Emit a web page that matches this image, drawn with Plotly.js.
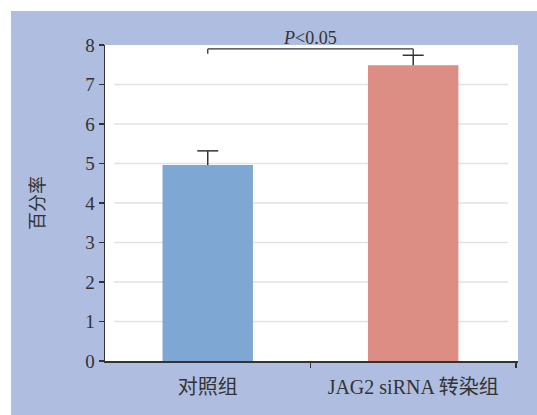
<!DOCTYPE html>
<html>
<head>
<meta charset="utf-8">
<script src="https://cdn.plot.ly/plotly-3.0.1.min.js"></script>
<style>html,body{margin:0;padding:0;background:#fff;}#chart{width:537px;height:415px;}</style>
</head>
<body>
<div id="chart"></div>
<script>
const categories = ["对照组", "JAG2 siRNA 转染组"];
const values = [4.96, 7.49];
const errors = [0.36, 0.25];
const barColors = ["#7EA8D3", "#DC8D84"];
const yTicks = [0, 1, 2, 3, 4, 5, 6, 7, 8];
const gridValues = [1, 2, 3, 4, 5, 6, 7];
const sigLabel = "<i>P</i>&lt;0.05";
const sigLevel = 7.9;
const sigDrop = 7.78;

const serif = "Liberation Serif, Times New Roman, Noto Sans CJK SC, serif";
const ink = "#333333";

const shapes = [
  {type: "rect", xref: "paper", yref: "paper", x0: -0.3, x1: 1.2, y0: 1.1074, y1: 1.3, fillcolor: "#ffffff", line: {width: 0}, layer: "below"},
  {type: "rect", xref: "paper", yref: "paper", x0: -0.3, x1: -0.2276, y0: -0.3, y1: 1.3, fillcolor: "#ffffff", line: {width: 0}, layer: "below"}
];
gridValues.forEach(v => shapes.push({
  type: "line", xref: "paper", yref: "y", x0: 0.022, x1: 0.976, y0: v, y1: v,
  line: {color: "#E2E2E2", width: 1.5}, layer: "below"
}));
shapes.push({type: "line", xref: "x", yref: "y", x0: 0, x1: 1, y0: sigLevel, y1: sigLevel, line: {color: ink, width: 1.3}});
shapes.push({type: "line", xref: "x", yref: "y", x0: 0, x1: 0, y0: sigLevel, y1: sigDrop, line: {color: ink, width: 1.3}});
shapes.push({type: "line", xref: "x", yref: "y", x0: 1, x1: 1, y0: sigLevel, y1: values[1] + errors[1], line: {color: ink, width: 1.3}});

const bars = {
  type: "bar",
  x: [0, 1],
  y: values,
  width: 0.44,
  marker: {color: barColors, line: {width: 0}},
  hoverinfo: "skip"
};
// upward-only error whiskers: line from bar top to value+error, with a cap marker at the end
const whiskers = {
  type: "scatter",
  mode: "markers",
  x: [0, 1],
  y: values.map((v, i) => v + errors[i]),
  marker: {symbol: "line-ew", size: 15, line: {color: ink, width: 1.5}},
  error_y: {type: "data", symmetric: false, array: [0, 0], arrayminus: errors, color: ink, thickness: 1.5, width: 0},
  cliponaxis: false,
  hoverinfo: "skip"
};

const layout = {
  width: 537, height: 415,
  margin: {l: 105, r: 19, t: 45, b: 54, pad: 0},
  paper_bgcolor: "#AEBDE0",
  plot_bgcolor: "#ffffff",
  showlegend: false,
  font: {family: serif, color: ink},
  xaxis: {
    type: "linear",
    range: [-0.5, 1.51],
    tickmode: "array",
    tickvals: [0, 1],
    ticktext: categories,
    showgrid: false, zeroline: false,
    showline: true, linecolor: ink, linewidth: 1.5,
    ticks: "", ticklabelstandoff: 7,
    tickfont: {size: 20, family: serif, color: ink},
    fixedrange: true
  },
  xaxis2: {
    overlaying: "x", range: [-0.5, 1.51], tickmode: "array", tickvals: [0.5, 1.5], ticktext: ["", ""],
    ticks: "outside", ticklen: 6, tickwidth: 1.3, tickcolor: ink, showgrid: false, zeroline: false, showline: false,
    side: "bottom", anchor: "y", fixedrange: true
  },
  yaxis: {
    range: [0, 8],
    tickmode: "array",
    tickvals: yTicks,
    showgrid: false, zeroline: false,
    showline: true, linecolor: ink, linewidth: 1.5,
    ticks: "outside", ticklen: 5, tickwidth: 1.3, tickcolor: ink,
    tickfont: {size: 19, family: serif, color: ink},
    title: {text: "百分率", font: {size: 18, family: serif, color: ink}, standoff: 36},
    fixedrange: true
  },
  shapes: shapes,
  annotations: [
    {xref: "x", yref: "y", x: 0.5, y: 8, yanchor: "bottom", text: sigLabel, showarrow: false, font: {size: 18, family: serif, color: ink}, yshift: -5}
  ]
};

const dummy = {type: "scatter", x: [0.5], y: [0], xaxis: "x2", mode: "markers", marker: {opacity: 0}, hoverinfo: "skip"};

Plotly.newPlot("chart", [bars, whiskers, dummy], layout, {displayModeBar: false, staticPlot: true});
</script>
</body>
</html>
